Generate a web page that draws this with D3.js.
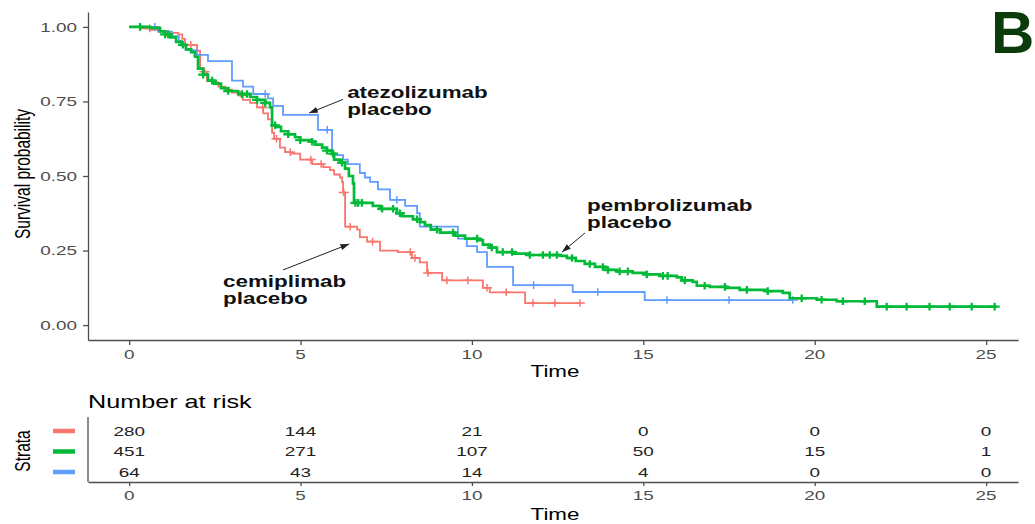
<!DOCTYPE html>
<html>
<head>
<meta charset="utf-8">
<script src="https://cdn.jsdelivr.net/npm/d3@7"></script>
<style>
  body { margin: 0; background: #fff; }
  svg { display: block; }
  text { font-family: "Liberation Sans", Arial, sans-serif; }
</style>
</head>
<body>
<svg id="chart" width="1035" height="524"></svg>
<script>
// ---- Kaplan-Meier estimates: [time, survival] step points ----
const cemiplimabSteps = [
  [0, 1], [0.32, 0.995], [0.61, 0.99], [0.85, 0.985], [1.14, 0.98], [1.43, 0.975],
  [1.55, 0.96], [1.63, 0.94], [1.98, 0.92], [2.07, 0.86], [2.16, 0.85], [2.27, 0.82],
  [2.42, 0.815], [2.6, 0.8], [2.8, 0.79], [3.0, 0.78], [3.24, 0.77], [3.32, 0.755],
  [3.53, 0.745], [3.73, 0.73], [3.91, 0.71], [4.05, 0.69], [4.17, 0.645], [4.23, 0.625],
  [4.4, 0.595], [4.55, 0.58], [4.75, 0.575], [4.99, 0.555], [5.34, 0.54], [5.66, 0.53],
  [5.86, 0.52], [5.98, 0.505], [6.15, 0.495], [6.21, 0.48], [6.24, 0.445], [6.3, 0.33],
  [6.65, 0.32], [6.73, 0.295], [6.94, 0.28], [7.32, 0.25], [7.84, 0.245], [8.25, 0.225],
  [8.48, 0.21], [8.69, 0.175], [9.13, 0.15], [10.32, 0.125], [10.52, 0.11], [11.55, 0.074]
];
const cemiplimabCensor = [0.6, 1.8, 2.2, 3.3, 3.9, 4.3, 4.7, 5.3, 5.6, 6.26, 6.45, 7.1,
  8.2, 8.34, 8.72, 9.27, 9.88, 10.44, 11.0, 11.78, 12.42, 13.15];
const cemiplimabEnd = 13.15;

const pembrolizumabSteps = [
  [0, 1], [0.61, 0.997], [0.9, 0.985], [1.05, 0.975], [1.2, 0.965], [1.37, 0.95],
  [1.52, 0.94], [1.66, 0.925], [1.81, 0.915], [1.92, 0.9], [2.01, 0.86], [2.16, 0.84],
  [2.3, 0.82], [2.48, 0.81], [2.68, 0.795], [2.89, 0.785], [3.18, 0.775], [3.53, 0.765],
  [3.73, 0.755], [3.97, 0.745], [4.11, 0.73], [4.17, 0.67], [4.29, 0.665], [4.43, 0.65],
  [4.64, 0.64], [4.84, 0.63], [4.99, 0.62], [5.28, 0.615], [5.42, 0.605], [5.63, 0.595],
  [5.77, 0.585], [5.92, 0.575], [5.98, 0.555], [6.15, 0.545], [6.3, 0.525], [6.41, 0.5],
  [6.53, 0.475], [6.56, 0.41], [7.11, 0.4], [7.32, 0.39], [7.81, 0.375], [7.96, 0.365],
  [8.28, 0.355], [8.48, 0.345], [8.63, 0.335], [8.8, 0.32], [9.07, 0.31], [9.5, 0.3],
  [9.8, 0.29], [10.17, 0.285], [10.32, 0.27], [10.52, 0.26], [10.73, 0.245], [11.2, 0.24],
  [11.69, 0.235], [12.57, 0.232], [12.77, 0.225], [13.03, 0.215], [13.29, 0.205],
  [13.59, 0.195], [13.88, 0.185], [14.23, 0.18], [14.69, 0.175], [15.04, 0.17],
  [15.48, 0.165], [15.98, 0.16], [16.12, 0.15], [16.44, 0.145], [16.56, 0.132],
  [16.94, 0.128], [17.43, 0.125], [17.81, 0.118], [18.6, 0.114], [19.07, 0.108],
  [19.27, 0.09], [20.06, 0.085], [20.64, 0.08], [21.81, 0.062]
];
const pembrolizumabCensor = [0.32, 1.05, 1.14, 1.57, 2.16, 2.42, 2.89, 3.29, 3.44, 3.73,
  3.97, 4.26, 4.64, 4.99, 5.34, 5.77, 5.95, 6.21, 6.6, 6.68, 6.79, 7.38, 7.7, 7.9, 8.4,
  8.98, 9.45, 10.15, 10.58, 10.9, 11.17, 11.69, 12.07, 12.27, 12.48, 12.92, 13.44, 13.82,
  13.97, 14.31, 14.55, 15.1, 15.57, 15.71, 16.21, 16.79, 17.38, 18.02, 18.63, 19.62,
  20.2, 20.82, 21.46, 22.1, 22.68, 23.35, 23.94, 24.58, 25.25];
const pembrolizumabEnd = 25.3;

const atezolizumabSteps = [
  [0, 1], [0.85, 0.984], [1.25, 0.969], [1.45, 0.953], [1.55, 0.938], [1.65, 0.922],
  [1.98, 0.906], [2.3, 0.885], [3.0, 0.82], [3.32, 0.8], [3.62, 0.775], [4.05, 0.76],
  [4.2, 0.735], [4.49, 0.705], [5.51, 0.655], [5.92, 0.57], [6.24, 0.555], [6.38, 0.54],
  [6.73, 0.51], [6.88, 0.495], [7.03, 0.48], [7.26, 0.455], [7.61, 0.42], [8.05, 0.4],
  [8.4, 0.375], [8.48, 0.33], [9.59, 0.29], [9.85, 0.265], [10.15, 0.245], [10.44, 0.195],
  [11.2, 0.134], [12.94, 0.111], [15.04, 0.084]
];
const atezolizumabCensor = [0.75, 3.97, 5.78, 7.81, 11.8, 13.67, 15.69, 17.5, 19.36];
const atezolizumabEnd = 19.36;

// ---- number at risk ----
const riskTimes = [0, 5, 10, 15, 20, 25];
const riskCemiplimab = [280, 144, 21, 0, 0, 0];
const riskPembrolizumab = [451, 271, 107, 50, 15, 1];
const riskAtezolizumab = [64, 43, 14, 4, 0, 0];

// ---- axes ----
const xTicks = [0, 5, 10, 15, 20, 25];
const yTicks = [0, 0.25, 0.5, 0.75, 1];
const strataColors = ["#F8766D", "#00BA38", "#619CFF"];

const svg = d3.select("#chart");
const SX = 1.4;              // horizontal text stretch
const AXIS = "#4d4d4d";

const x = d3.scaleLinear().domain([-1.2, 25.93]).range([88, 1018]);
const y = d3.scaleLinear().domain([-0.05, 1.05]).range([340, 12]);

function label(g, px, py, txt, o = {}) {
  const sx = o.sx || SX;
  return g.append("text")
    .attr("transform", `translate(${px},${py}) scale(${sx},1)` + (o.rotate ? " rotate(-90)" : ""))
    .attr("text-anchor", o.anchor || "start")
    .attr("dy", o.dy || "0.35em")
    .style("font-size", (o.size || 13.5) + "px")
    .style("font-weight", o.weight || "normal")
    .attr("fill", o.fill || "#000")
    .text(txt);
}

// ---- survival panel axes ----
const gy = svg.append("g").attr("transform", `translate(${x.range()[0]},0)`)
  .call(d3.axisLeft(y).tickValues(yTicks).tickFormat(d3.format(".2f")).tickSize(5).tickSizeOuter(0));
gy.select(".domain").attr("stroke", AXIS).attr("stroke-width", 1.3);
gy.selectAll(".tick line").attr("stroke", AXIS).attr("stroke-width", 1.3);
gy.selectAll(".tick text").remove();
yTicks.forEach(v => label(svg, x.range()[0] - 11, y(v), d3.format(".2f")(v), { anchor: "end", fill: "#4d4d4d" }));

const gx = svg.append("g").attr("transform", `translate(0,${y.range()[0]})`)
  .call(d3.axisBottom(x).tickValues(xTicks).tickSize(5).tickSizeOuter(0));
gx.select(".domain").attr("stroke", AXIS).attr("stroke-width", 1.3);
gx.selectAll(".tick line").attr("stroke", AXIS).attr("stroke-width", 1.3);
gx.selectAll(".tick text").remove();
xTicks.forEach(v => label(svg, x(v), y.range()[0] + 14, v, { anchor: "middle", fill: "#4d4d4d" }));

label(svg, 555, 371, "Time", { anchor: "middle", size: 16 });
label(svg, 22.5, 174, "Survival probability", { anchor: "middle", size: 15.5, rotate: true });

// ---- survival curves ----
const series = [
  { steps: cemiplimabSteps, censor: cemiplimabCensor, end: cemiplimabEnd, color: strataColors[0], w: 1.8, cw: 1.5 },
  { steps: atezolizumabSteps, censor: atezolizumabCensor, end: atezolizumabEnd, color: strataColors[2], w: 1.8, cw: 1.5 },
  { steps: pembrolizumabSteps, censor: pembrolizumabCensor, end: pembrolizumabEnd, color: strataColors[1], w: 2.7, cw: 2.3 }
];
const stepLine = d3.line().x(d => x(d[0])).y(d => y(d[1])).curve(d3.curveStepAfter);
function survAt(steps, t) {
  let s = 1;
  for (const [ti, si] of steps) if (ti <= t) s = si;
  return s;
}
series.forEach(sr => {
  const pts = sr.steps.concat([[sr.end, sr.steps[sr.steps.length - 1][1]]]);
  svg.append("path").datum(pts)
    .attr("d", stepLine)
    .attr("fill", "none")
    .attr("stroke", sr.color)
    .attr("stroke-width", sr.w);
  svg.append("g").selectAll("path").data(sr.censor).join("path")
    .attr("transform", d => `translate(${x(d)},${y(survAt(sr.steps, d))})`)
    .attr("d", "M-5,0H5M0,-3.8V3.8")
    .attr("stroke", sr.color)
    .attr("stroke-width", sr.cw)
    .attr("fill", "none");
});

// ---- annotations ----
svg.append("defs").append("marker")
  .attr("id", "arrowHead").attr("markerUnits", "userSpaceOnUse")
  .attr("viewBox", "0 -4 10 8").attr("refX", 10).attr("refY", 0)
  .attr("markerWidth", 9).attr("markerHeight", 7).attr("orient", "auto")
  .append("path").attr("d", "M0,-3.5L10,0L0,3.5Z").attr("fill", "#222");

const notes = [
  { lines: ["atezolizumab", "placebo"], at: [6.36, 0.78], from: [6.24, 0.757], to: [5.25, 0.711] },
  { lines: ["pembrolizumab", "placebo"], at: [13.36, 0.40], from: [13.3, 0.309], to: [12.63, 0.245] },
  { lines: ["cemiplimab", "placebo"], at: [2.74, 0.145], from: [4.49, 0.185], to: [6.42, 0.272] }
];
notes.forEach(n => {
  n.lines.forEach((ln, i) => label(svg, x(n.at[0]), y(n.at[1]) + i * 16.5, ln, { size: 16, weight: "bold", fill: "#111" }));
  svg.append("line")
    .attr("x1", x(n.from[0])).attr("y1", y(n.from[1]))
    .attr("x2", x(n.to[0])).attr("y2", y(n.to[1]))
    .attr("stroke", "#222").attr("stroke-width", 1)
    .attr("marker-end", "url(#arrowHead)");
});

// panel tag
label(svg, 991, 53, "B", { size: 60, weight: "bold", fill: "#0b3a0b", dy: "0", sx: 1 });

// ---- risk table ----
const riskRows = [riskCemiplimab, riskPembrolizumab, riskAtezolizumab];
const rowY = d3.scalePoint().domain([0, 1, 2]).range([431, 472]);
const tableBase = 482;

label(svg, 88, 402, "Number at risk", { size: 18 });

const rx = svg.append("g").attr("transform", `translate(0,${tableBase})`)
  .call(d3.axisBottom(x).tickValues(riskTimes).tickSize(4).tickSizeOuter(0));
rx.select(".domain").attr("stroke", AXIS).attr("stroke-width", 1.3);
rx.selectAll(".tick line").attr("stroke", AXIS).attr("stroke-width", 1.3);
rx.selectAll(".tick text").remove();
riskTimes.forEach(v => label(svg, x(v), tableBase + 13, v, { anchor: "middle", fill: "#4d4d4d" }));

svg.append("line")
  .attr("x1", x.range()[0]).attr("x2", x.range()[0])
  .attr("y1", 417).attr("y2", tableBase)
  .attr("stroke", AXIS).attr("stroke-width", 1.3);

riskRows.forEach((row, i) => {
  row.forEach((n, j) => label(svg, x(riskTimes[j]), rowY(i), n, { anchor: "middle", fill: "#222" }));
  svg.append("line")
    .attr("x1", 53).attr("x2", 75)
    .attr("y1", rowY(i)).attr("y2", rowY(i))
    .attr("stroke", strataColors[i]).attr("stroke-width", 4.5);
});

label(svg, 22.5, 451, "Strata", { anchor: "middle", size: 15.5, rotate: true });
label(svg, 555, 514, "Time", { anchor: "middle", size: 16 });
</script>
</body>
</html>
